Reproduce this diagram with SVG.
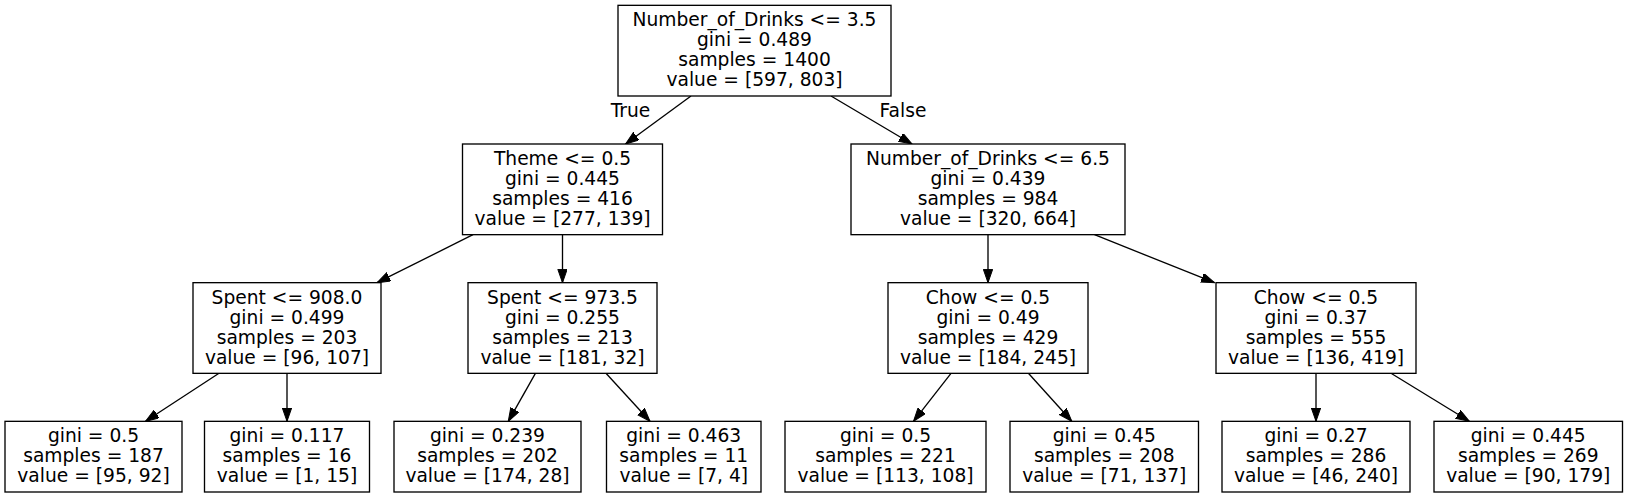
<svg xmlns="http://www.w3.org/2000/svg" width="1627" height="497" viewBox="0 0 1627 497">
<style>
.node rect { fill: #ffffff; stroke: #000000; stroke-width: 1.33; }
text { font-family: "DejaVu Sans", "Liberation Sans", sans-serif; font-size: 18.67px; fill: #000000; text-anchor: middle; }
.edges line { stroke: #000000; stroke-width: 1.33; fill: none; marker-end: url(#arrow); }
</style>
<defs>
<marker id="arrow" markerUnits="userSpaceOnUse" markerWidth="14" markerHeight="10" refX="13.33" refY="4.67" orient="auto">
<path d="M0,0 L13.33,4.67 L0,9.33 z" fill="#000000" stroke="#000000" stroke-width="1"/>
</marker>
</defs>
<rect x="0" y="0" width="1627" height="497" fill="#ffffff"/>
<g class="edges" id="edges">
<line x1="691" y1="96" x2="625.5" y2="144"/>
<line x1="831" y1="96" x2="912" y2="144"/>
<line x1="473" y1="234.7" x2="377" y2="282.7"/>
<line x1="562.5" y1="234.7" x2="562.5" y2="282.7"/>
<line x1="219" y1="373.3" x2="145.5" y2="421.3"/>
<line x1="287" y1="373.3" x2="287" y2="421.3"/>
<line x1="535.4" y1="373.3" x2="508.3" y2="421.3"/>
<line x1="606" y1="373.3" x2="650" y2="421.3"/>
<line x1="988" y1="234.7" x2="988" y2="282.7"/>
<line x1="1094.5" y1="234.7" x2="1214.5" y2="282.7"/>
<line x1="951" y1="373.3" x2="913.5" y2="421.3"/>
<line x1="1028.4" y1="373.3" x2="1071.8" y2="421.3"/>
<line x1="1316" y1="373.3" x2="1316" y2="421.3"/>
<line x1="1391" y1="373.3" x2="1469.3" y2="421.3"/>
<text x="630.5" y="116.5">True</text>
<text x="903" y="116.5">False</text>
</g>
<g class="node" id="n0">
<rect x="618" y="5.33" width="273" height="90.67"/>
<text x="754.5" y="26.2">Number_of_Drinks &lt;= 3.5</text>
<text x="754.5" y="46.2">gini = 0.489</text>
<text x="754.5" y="66.2">samples = 1400</text>
<text x="754.5" y="86.2">value = [597, 803]</text>
</g>
<g class="node" id="n1">
<rect x="462.5" y="144" width="200" height="90.67"/>
<text x="562.5" y="164.9">Theme &lt;= 0.5</text>
<text x="562.5" y="184.9">gini = 0.445</text>
<text x="562.5" y="204.9">samples = 416</text>
<text x="562.5" y="224.9">value = [277, 139]</text>
</g>
<g class="node" id="n2">
<rect x="193" y="282.67" width="188" height="90.67"/>
<text x="287" y="303.6">Spent &lt;= 908.0</text>
<text x="287" y="323.6">gini = 0.499</text>
<text x="287" y="343.6">samples = 203</text>
<text x="287" y="363.6">value = [96, 107]</text>
</g>
<g class="node" id="n3">
<rect x="5" y="421.33" width="177" height="70.67"/>
<text x="93.5" y="442.2">gini = 0.5</text>
<text x="93.5" y="462.2">samples = 187</text>
<text x="93.5" y="482.2">value = [95, 92]</text>
</g>
<g class="node" id="n4">
<rect x="204.5" y="421.33" width="165" height="70.67"/>
<text x="287" y="442.2">gini = 0.117</text>
<text x="287" y="462.2">samples = 16</text>
<text x="287" y="482.2">value = [1, 15]</text>
</g>
<g class="node" id="n5">
<rect x="468" y="282.67" width="189" height="90.67"/>
<text x="562.5" y="303.6">Spent &lt;= 973.5</text>
<text x="562.5" y="323.6">gini = 0.255</text>
<text x="562.5" y="343.6">samples = 213</text>
<text x="562.5" y="363.6">value = [181, 32]</text>
</g>
<g class="node" id="n6">
<rect x="394" y="421.33" width="187" height="70.67"/>
<text x="487.5" y="442.2">gini = 0.239</text>
<text x="487.5" y="462.2">samples = 202</text>
<text x="487.5" y="482.2">value = [174, 28]</text>
</g>
<g class="node" id="n7">
<rect x="606.5" y="421.33" width="154.5" height="70.67"/>
<text x="683.75" y="442.2">gini = 0.463</text>
<text x="683.75" y="462.2">samples = 11</text>
<text x="683.75" y="482.2">value = [7, 4]</text>
</g>
<g class="node" id="n8">
<rect x="851" y="144" width="274" height="90.67"/>
<text x="988" y="164.9">Number_of_Drinks &lt;= 6.5</text>
<text x="988" y="184.9">gini = 0.439</text>
<text x="988" y="204.9">samples = 984</text>
<text x="988" y="224.9">value = [320, 664]</text>
</g>
<g class="node" id="n9">
<rect x="888" y="282.67" width="200" height="90.67"/>
<text x="988" y="303.6">Chow &lt;= 0.5</text>
<text x="988" y="323.6">gini = 0.49</text>
<text x="988" y="343.6">samples = 429</text>
<text x="988" y="363.6">value = [184, 245]</text>
</g>
<g class="node" id="n10">
<rect x="785" y="421.33" width="201" height="70.67"/>
<text x="885.5" y="442.2">gini = 0.5</text>
<text x="885.5" y="462.2">samples = 221</text>
<text x="885.5" y="482.2">value = [113, 108]</text>
</g>
<g class="node" id="n11">
<rect x="1010" y="421.33" width="188.5" height="70.67"/>
<text x="1104.25" y="442.2">gini = 0.45</text>
<text x="1104.25" y="462.2">samples = 208</text>
<text x="1104.25" y="482.2">value = [71, 137]</text>
</g>
<g class="node" id="n12">
<rect x="1216" y="282.67" width="200" height="90.67"/>
<text x="1316" y="303.6">Chow &lt;= 0.5</text>
<text x="1316" y="323.6">gini = 0.37</text>
<text x="1316" y="343.6">samples = 555</text>
<text x="1316" y="363.6">value = [136, 419]</text>
</g>
<g class="node" id="n13">
<rect x="1222" y="421.33" width="188" height="70.67"/>
<text x="1316" y="442.2">gini = 0.27</text>
<text x="1316" y="462.2">samples = 286</text>
<text x="1316" y="482.2">value = [46, 240]</text>
</g>
<g class="node" id="n14">
<rect x="1434" y="421.33" width="188.5" height="70.67"/>
<text x="1528.25" y="442.2">gini = 0.445</text>
<text x="1528.25" y="462.2">samples = 269</text>
<text x="1528.25" y="482.2">value = [90, 179]</text>
</g>
</svg>
